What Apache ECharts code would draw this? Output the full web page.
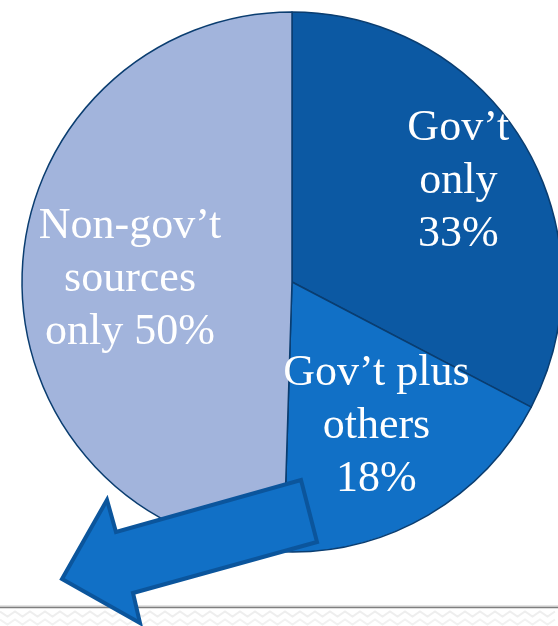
<!DOCTYPE html>
<html>
<head>
<meta charset="utf-8">
<script src="https://cdn.jsdelivr.net/npm/echarts@6/dist/echarts.min.js"></script>
<style>
  html, body { margin: 0; padding: 0; background: #ffffff; }
  #chart { width: 558px; height: 626px; }
</style>
</head>
<body>
<div id="chart"></div>
<script>
// Funding sources, percent of total
var categories = ['Gov’t only', 'Gov’t plus others', 'Non-gov’t sources only'];
var shares = [33, 18, 50];
// Label templates ({c} is the slice value)
var labelTemplates = ['Gov’t\nonly\n{c}%', 'Gov’t plus\nothers\n{c}%', 'Non-gov’t\nsources\nonly {c}%'];

var sliceColors = ['#0c59a3', '#1170c6', '#a2b4dc'];
// How far out along each slice's bisector its label sits (fraction of radius)
var labelRadiusFrac = [0.72, 0.62, 0.6];

var CENTER = [292, 282];
var RADIUS = 270;

var chart = echarts.init(document.getElementById('chart'), null, { renderer: 'canvas' });

var total = shares.reduce(function (a, b) { return a + b; }, 0);
function midAngleDeg(i) {
  var before = 0;
  for (var k = 0; k < i; k++) before += shares[k];
  return (before + shares[i] / 2) / total * 360;
}

// Zig-zag texture under the footer rule
function zigzag(y0, amp, step) {
  var pts = [];
  for (var x = 0, n = 0; x <= 560; x += step, n++) {
    pts.push([x, y0 + (n % 2 ? amp : -amp)]);
  }
  return pts;
}

var option = {
  backgroundColor: '#ffffff',
  animation: false,
  series: [{
    type: 'pie',
    center: CENTER,
    radius: RADIUS,
    startAngle: 90,
    clockwise: true,
    avoidLabelOverlap: false,
    itemStyle: { borderColor: '#0a3d70', borderWidth: 1.5 },
    label: {
      show: true,
      position: 'inside',
      color: '#ffffff',
      fontFamily: '"Liberation Serif", "DejaVu Serif", serif',
      fontSize: 44,
      lineHeight: 53,
      align: 'center'
    },
    labelLine: { show: false },
    labelLayout: function (params) {
      var i = params.dataIndex;
      var a = midAngleDeg(i) * Math.PI / 180;
      var r = labelRadiusFrac[i] * RADIUS;
      return {
        x: CENTER[0] + r * Math.sin(a),
        y: CENTER[1] - r * Math.cos(a),
        align: 'center',
        verticalAlign: 'middle'
      };
    },
    emphasis: { disabled: true },
    data: categories.map(function (name, i) {
      return {
        name: name,
        value: shares[i],
        itemStyle: { color: sliceColors[i] },
        label: { formatter: labelTemplates[i] }
      };
    })
  }],
  graphic: [
    { type: 'polyline', silent: true, z: 1, shape: { points: zigzag(614, 2.5, 7.5) },
      style: { stroke: '#eeeeee', lineWidth: 2, fill: null } },
    { type: 'polyline', silent: true, z: 1, shape: { points: zigzag(622, 2.5, 7.5) },
      style: { stroke: '#f1f1f1', lineWidth: 2, fill: null } },
    { type: 'line', silent: true, z: 2, shape: { x1: 0, y1: 606, x2: 558, y2: 606 },
      style: { stroke: '#c8c8c8', lineWidth: 1 } },
    { type: 'line', silent: true, z: 2, shape: { x1: 0, y1: 607.5, x2: 558, y2: 607.5 },
      style: { stroke: '#7f7f7f', lineWidth: 1.5 } },
    // Block arrow pointing down-left
    { type: 'polygon', silent: true, z: 100,
      shape: { points: [[301, 480], [317, 542], [133, 593], [140, 623], [62, 579], [107, 500], [116, 532]] },
      style: { fill: '#1170c6', stroke: '#0b559c', lineWidth: 4, lineJoin: 'miter' } }
  ]
};

chart.setOption(option);
</script>
</body>
</html>
